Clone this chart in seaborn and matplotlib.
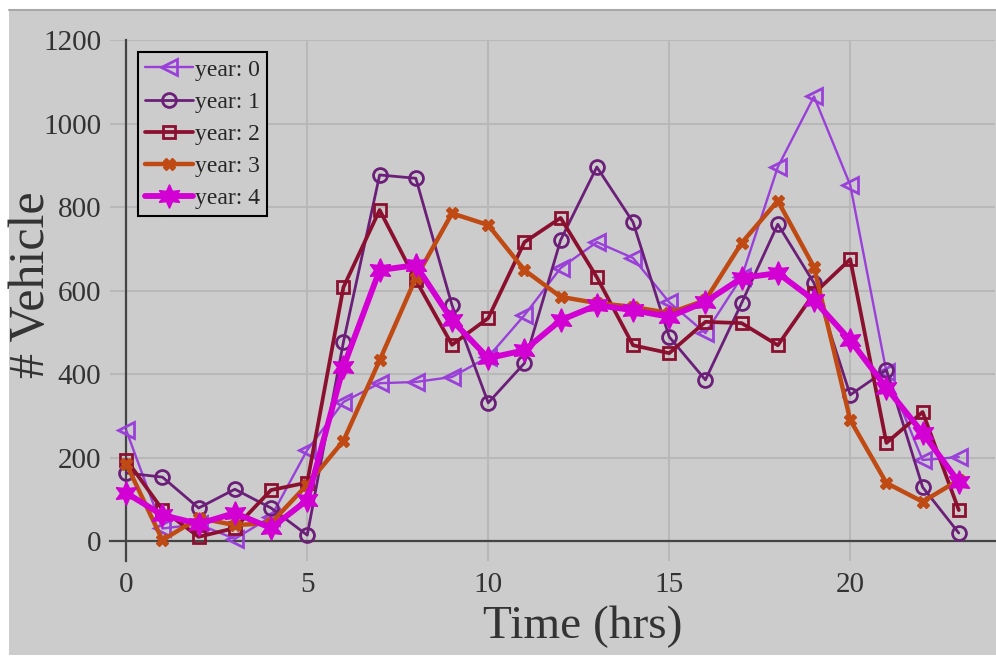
import numpy as np
import pandas as pd
import seaborn as sns
import matplotlib.pyplot as plt
from matplotlib.patches import Rectangle
from matplotlib.ticker import MultipleLocator

hours = list(range(24))
years = ['year: 0', 'year: 1', 'year: 2', 'year: 3', 'year: 4']
year0 = [265, 30, 40, 5, 58, 218, 333, 378, 381, 393, 441, 541, 654, 716, 678, 572, 498, 632, 896, 1065, 853, 405, 194, 201]
year1 = [163, 153, 79, 124, 79, 14, 477, 877, 869, 565, 331, 426, 721, 896, 764, 489, 386, 570, 759, 618, 350, 410, 129, 19]
year2 = [195, 75, 10, 31, 122, 140, 608, 793, 625, 470, 534, 716, 774, 632, 469, 450, 525, 522, 469, 593, 675, 235, 309, 74]
year3 = [185, 2, 55, 38, 43, 135, 240, 433, 630, 785, 757, 649, 585, 570, 561, 546, 577, 714, 815, 656, 290, 139, 94, 146]
year4 = [115, 62, 41, 67, 31, 98, 417, 649, 661, 529, 438, 457, 529, 565, 553, 537, 573, 630, 642, 577, 481, 367, 259, 141]

df = pd.DataFrame({
    'hour': hours * 5,
    'year': np.repeat(years, 24),
    'vehicles': year0 + year1 + year2 + year3 + year4,
})

# per-series look: colour, marker, size, line width, hollow?
styles = {
    'year: 0': ('#9a40d9', '<', 11, 1.7, True),
    'year: 1': ('#6b1f78', 'o', 10, 2.0, True),
    'year: 2': ('#8b1030', 's', 9, 2.7, True),
    'year: 3': ('#c04a14', 'X', 9, 3.2, False),
    'year: 4': ('#d200d2', (6, 1, 0), 17, 4.2, False),
}

sns.set_style('white')
plt.rcParams['font.family'] = ['Liberation Serif', 'DejaVu Serif']

fig = plt.figure(figsize=(9.96, 6.56), dpi=100)
fig.patch.set_facecolor('white')
fig.patches.append(Rectangle((0.009, 0.0015), 0.991, 0.9833, transform=fig.transFigure,
                             facecolor='#cccccc', edgecolor='none', zorder=-10))
fig.lines.append(plt.Line2D([0.009, 1], [0.985, 0.985], transform=fig.transFigure,
                            color='#a8a8a8', lw=1.5))

ax = fig.add_axes([0.1104, 0.1448, 0.8886, 0.794])
ax.set_facecolor('none')

for yr in years:
    c, m, ms, lw, hollow = styles[yr]
    sns.lineplot(data=df[df['year'] == yr], x='hour', y='vehicles', ax=ax,
                 color=c, marker=m, markersize=ms, linewidth=lw,
                 markerfacecolor='none' if hollow else c,
                 markeredgecolor=c, markeredgewidth=2.0 if hollow else 1.0,
                 label=yr, zorder=3)

ax.set_xlim(-0.45, 24.0)
ax.set_ylim(-48, 1200)

ax.spines['left'].set_position(('data', 0))
ax.spines['bottom'].set_position(('data', 0))
ax.spines['top'].set_visible(False)
ax.spines['right'].set_visible(False)
for s in ['left', 'bottom']:
    ax.spines[s].set_color('#444444')
    ax.spines[s].set_linewidth(1.6)

ax.xaxis.set_major_locator(MultipleLocator(5))
ax.xaxis.set_minor_locator(MultipleLocator(1))
ax.yaxis.set_major_locator(MultipleLocator(200))
ax.yaxis.set_minor_locator(MultipleLocator(50))
ax.tick_params(which='major', direction='out', length=14, width=1.6, color='#444444',
               labelsize=21, labelcolor='#333333')
ax.tick_params(which='minor', direction='out', length=8, width=1.4, color='#444444')
ax.tick_params(axis='x', which='major', pad=8)
ax.tick_params(axis='y', which='major', pad=4)

ax.grid(True, which='major', color='#b8b8b8', linewidth=1.5)
ax.set_axisbelow(True)

ax.set_xlabel('Time (hrs)', fontsize=34, color='#333333')
ax.set_ylabel('# Vehicle', fontsize=36, color='#333333')
ax.xaxis.set_label_coords(0.534, -0.085)
ax.yaxis.set_label_coords(-0.062, 0.53)

leg = ax.legend(loc='upper left', bbox_to_anchor=(0.032, 0.977), borderaxespad=0,
                fontsize=17, frameon=True, fancybox=False, framealpha=1,
                facecolor='#cccccc', edgecolor='black', labelspacing=0.45,
                handlelength=2.0, handletextpad=0.1, borderpad=0.3)
leg.get_frame().set_linewidth(1.5)

fig.savefig('out.png', dpi=100)
